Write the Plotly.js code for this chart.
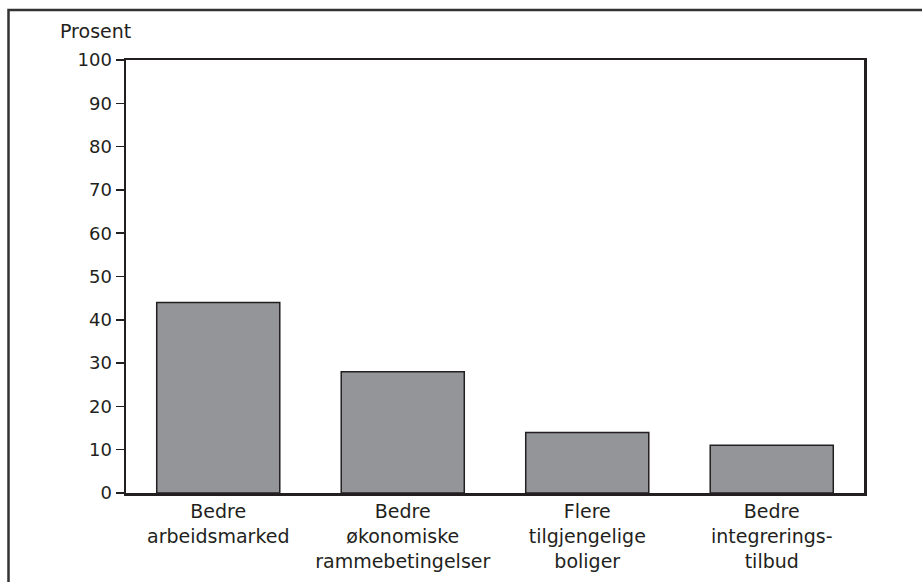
<!DOCTYPE html>
<html>
<head>
<meta charset="utf-8">
<script src="https://cdn.plot.ly/plotly-3.0.1.min.js"></script>
<style>html,body{margin:0;padding:0;background:#fff;}#chart{width:922px;height:582px;}</style>
</head>
<body>
<div id="chart"></div>
<script>
const categories = ["Bedre arbeidsmarked", "Bedre økonomiske rammebetingelser", "Flere tilgjengelige boliger", "Bedre integreringstilbud"];
const tickLabels = ["Bedre<br>arbeidsmarked", "Bedre<br>økonomiske<br>rammebetingelser", "Flere<br>tilgjengelige<br>boliger", "Bedre<br>integrerings-<br>tilbud"];
const values = [44, 28, 14, 11];
const yTicks = [0, 10, 20, 30, 40, 50, 60, 70, 80, 90, 100];
const yUnit = "Prosent";

const FONT = "DejaVu Sans, sans-serif";
const DARK = "#231f20";
const FS = 18;
const PLOT_TOP = 60, PLOT_BOTTOM = 493, PLOT_LEFT = 126, PLOT_W = 738;
const PLOT_H = PLOT_BOTTOM - PLOT_TOP;

const trace = {
  type: "bar",
  x: categories,
  y: values,
  marker: {color: "#939598", line: {color: DARK, width: 1.5}},
  width: 0.667,
  hoverinfo: "none"
};

const layout = {
  width: 922, height: 582,
  margin: {l: PLOT_LEFT, r: 922 - PLOT_LEFT - PLOT_W, t: PLOT_TOP, b: 582 - PLOT_BOTTOM, pad: 0},
  paper_bgcolor: "#ffffff",
  plot_bgcolor: "#ffffff",
  showlegend: false,
  font: {family: FONT, color: DARK, size: FS},
  xaxis: {
    type: "category",
    tickvals: categories,
    ticktext: tickLabels,
    showline: true, mirror: true, linecolor: DARK, linewidth: 2.5,
    ticks: "", showgrid: false, zeroline: false,
    tickfont: {family: FONT, size: 19, color: DARK}
  },
  yaxis: {
    range: [0, 100],
    tickvals: yTicks,
    ticktext: yTicks.map(String),
    showline: true, mirror: true, linecolor: DARK, linewidth: 2.5,
    ticks: "outside", ticklen: 8, tickwidth: 1.5, tickcolor: DARK,
    showgrid: false, zeroline: false,
    tickfont: {family: FONT, size: FS, color: DARK}
  },
  annotations: [{
    text: yUnit, xref: "paper", yref: "paper",
    x: (95 - PLOT_LEFT) / PLOT_W, y: (PLOT_BOTTOM - 31) / PLOT_H,
    xanchor: "center", yanchor: "middle", showarrow: false,
    font: {family: FONT, size: 19, color: DARK}
  }],
  shapes: [{
    type: "rect", xref: "paper", yref: "paper",
    x0: (8.5 - PLOT_LEFT) / PLOT_W, x1: 2, y0: -1, y1: (PLOT_BOTTOM - 10) / PLOT_H,
    line: {color: "#333333", width: 2.5}, fillcolor: "rgba(0,0,0,0)", layer: "below"
  }]
};

Plotly.newPlot("chart", [trace], layout, {staticPlot: true, displayModeBar: false});
</script>
</body>
</html>
